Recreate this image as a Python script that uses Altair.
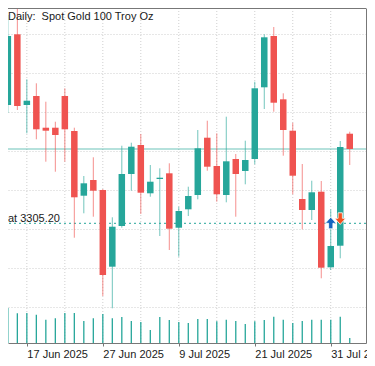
import altair as alt
import pandas as pd

# ---- data ----
dates = ["13 Jun 2025", "16 Jun 2025", "17 Jun 2025", "18 Jun 2025", "19 Jun 2025", "20 Jun 2025",
         "23 Jun 2025", "24 Jun 2025", "25 Jun 2025", "26 Jun 2025", "27 Jun 2025", "30 Jun 2025",
         "1 Jul 2025", "2 Jul 2025", "3 Jul 2025", "4 Jul 2025", "7 Jul 2025", "8 Jul 2025",
         "9 Jul 2025", "10 Jul 2025", "11 Jul 2025", "14 Jul 2025", "15 Jul 2025", "16 Jul 2025",
         "17 Jul 2025", "18 Jul 2025", "21 Jul 2025", "22 Jul 2025", "23 Jul 2025", "24 Jul 2025",
         "25 Jul 2025", "28 Jul 2025", "29 Jul 2025", "30 Jul 2025", "31 Jul 2025", "1 Aug 2025",
         "4 Aug 2025"]

opens = [3380.94, 3426.20, 3380.94, 3386.70, 3366.40, 3366.40, 3386.70, 3364.29, 3322.87, 3332.92,
         3326.52, 3277.42, 3303.47, 3336.76, 3355.33, 3324.41, 3333.56, 3337.21, 3302.38, 3314.16,
         3323.32, 3360.00, 3341.88, 3323.32, 3346.37, 3338.68, 3346.37, 3392.27, 3425.11, 3384.58,
         3364.48, 3320.76, 3313.71, 3325.43, 3277.03, 3290.86, 3362.56]
highs = [3438.55, 3446.88, 3397.39, 3394.83, 3383.05, 3370.24, 3391.63, 3366.40, 3335.48, 3347.45,
         3327.16, 3309.04, 3354.88, 3356.80, 3362.37, 3342.52, 3340.41, 3343.61, 3315.83, 3328.63,
         3364.93, 3370.88, 3362.82, 3373.45, 3349.57, 3358.08, 3395.85, 3426.20, 3430.87, 3388.43,
         3369.60, 3343.16, 3332.47, 3332.28, 3314.16, 3357.89, 3363.84]
lows = [3375.81, 3377.73, 3362.82, 3358.98, 3344.64, 3338.23, 3344.64, 3295.98, 3311.60, 3309.43,
        3258.66, 3250.78, 3302.38, 3326.07, 3311.15, 3322.23, 3297.07, 3288.11, 3283.82, 3309.87,
        3320.56, 3338.87, 3319.03, 3318.64, 3309.43, 3330.17, 3342.97, 3378.37, 3376.65, 3348.48,
        3323.77, 3301.36, 3307.31, 3269.99, 3275.30, 3282.79, 3342.52]
closes = [3425.11, 3380.30, 3383.69, 3365.38, 3364.48, 3361.73, 3365.38, 3321.85, 3330.81, 3326.07,
          3272.10, 3303.02, 3336.76, 3354.24, 3324.79, 3331.83, 3334.39, 3301.74, 3313.07, 3322.68,
          3353.22, 3341.44, 3323.77, 3344.89, 3336.76, 3345.72, 3391.63, 3424.28, 3382.41, 3364.93,
          3335.67, 3313.71, 3325.05, 3276.78, 3290.67, 3354.05, 3352.77]
volumes = [35000, 29700, 30000, 28300, 23300, 24700, 30000, 30000, 22000, 24700,
           29000, 24700, 26000, 22000, 21000, 13000, 26000, 23000, 21000, 20000,
           24000, 24000, 21700, 23300, 22000, 19000, 21700, 23000, 26300, 23300,
           20000, 22000, 23300, 23300, 23300, 26300, 5000]

tick_idx = [2, 10, 18, 26, 34]
tick_labels = ["17 Jun 2025", "27 Jun 2025", "9 Jul 2025", "21 Jul 2025", "31 Jul 2025"]
grid_idx = [2, 6, 10, 14, 18, 22, 26, 30, 34]
price_grid = [3251.6, 3276.6, 3301.6, 3326.6, 3351.6, 3376.6, 3401.6, 3426.6]

trade_price = 3305.20
buy_idx, buy_price = 34, 3305.20
sell_idx, sell_price = 35, 3308.40

title_text = "Daily:\u00a0 Spot Gold 100 Troy Oz"
trade_text = "at 3305.20"

UP = "#26a69a"
DOWN = "#ef5350"
FONT = "Liberation Sans"

df = pd.DataFrame({
    "idx": list(range(len(dates))),
    "date": dates,
    "open": opens, "high": highs, "low": lows, "close": closes,
    "vol": volumes,
})
df["dir"] = ["up" if c >= o else "down" for o, c in zip(opens, closes)]

W, H = 358, 335
xscale = alt.Scale(domain=[0.5425, 37.1853], nice=False, zero=False)
yscale = alt.Scale(domain=[3228.57, 3443.04], nice=False, zero=False)
vscale = alt.Scale(domain=[0, 335000], nice=False, zero=False)
cscale = alt.Scale(domain=["up", "down"], range=[UP, DOWN])

label_expr = "".join(f"datum.value == {i} ? '{t}' : " for i, t in zip(tick_idx, tick_labels)) + "''"

xaxis = alt.Axis(
    values=tick_idx, labelExpr=label_expr, grid=False, tickSize=3, tickColor="#777777",
    domainColor="#777777", labelAlign="left", labelBaseline="alphabetic", labelPadding=11,
    labelFont=FONT, labelFontSize=11, labelColor="#1a1a1a", labelOverlap=False,
    labelFlush=False, title=None)
yaxis = alt.Axis(
    orient="right", values=price_grid, grid=True, gridDash=[1, 2], gridColor="#cfcfcf",
    labels=False, ticks=True, tickSize=3, tickColor="#777777", domainColor="#777777",
    title=None)


def X(field):
    return alt.X(field, scale=xscale, axis=xaxis)


def Y(field):
    return alt.Y(field, scale=yscale, axis=yaxis)


base = alt.Chart(df)

grid_v = alt.Chart(pd.DataFrame({"idx": grid_idx})).mark_rule(
    color="#cfcfcf", strokeDash=[1, 2], strokeWidth=1
).encode(x=X("idx:Q"))

vol = base.mark_rule(color=UP, strokeWidth=1.3, clip=True).encode(
    x=X("idx:Q"),
    y=alt.Y("vol:Q", scale=vscale, axis=None),
    y2=alt.datum(0),
)

price_line = alt.Chart(pd.DataFrame({"p": [closes[-1]]})).mark_rule(
    color=UP, opacity=0.45, strokeWidth=1.5
).encode(y=Y("p:Q"))

trade_df = pd.DataFrame({"p": [trade_price], "t": [trade_text]})
trade_line = alt.Chart(trade_df).mark_rule(
    color=UP, strokeDash=[2, 3], strokeWidth=1
).encode(y=Y("p:Q"))

trade_label = alt.Chart(trade_df).mark_text(
    align="left", baseline="alphabetic", dy=-1.6, font=FONT, fontSize=11, color="#1a1a1a"
).encode(x=alt.value(0), y=Y("p:Q"), text="t:N")

wicks = base.mark_rule(strokeWidth=1, opacity=0.65, clip=True).encode(
    x=X("idx:Q"),
    y=Y("low:Q"),
    y2="high:Q",
    color=alt.Color("dir:N", scale=cscale, legend=None),
)

bodies = base.mark_bar(size=6.5, clip=True).encode(
    x=X("idx:Q"),
    y=Y("open:Q"),
    y2="close:Q",
    color=alt.Color("dir:N", scale=cscale, legend=None),
    tooltip=["date:N", "open:Q", "high:Q", "low:Q", "close:Q"],
)

up_arrow = "M0,-1L0.9,0L0.35,0L0.35,0.9L-0.35,0.9L-0.35,0L-0.9,0Z"
down_arrow = "M0,1L0.9,0L0.35,0L0.35,-0.9L-0.35,-0.9L-0.35,0L-0.9,0Z"
buy_arrow = alt.Chart(pd.DataFrame({"idx": [buy_idx], "p": [buy_price]})).mark_point(
    shape=up_arrow, filled=True, size=150, fill="#1565c0", stroke="white", strokeWidth=0.8, opacity=1
).encode(x=X("idx:Q"), y=Y("p:Q"))
sell_arrow = alt.Chart(pd.DataFrame({"idx": [sell_idx], "p": [sell_price]})).mark_point(
    shape=down_arrow, filled=True, size=150, fill="#f4511e", stroke="white", strokeWidth=0.8, opacity=1
).encode(x=X("idx:Q"), y=Y("p:Q"))

top_border = alt.Chart(pd.DataFrame({"a": [0]})).mark_rule(color="#777777", strokeWidth=1).encode(
    y=alt.value(0.5))

title = alt.Chart(pd.DataFrame({"t": [title_text]})).mark_text(
    align="left", baseline="top", font=FONT, fontSize=11, color="#1a1a1a"
).encode(x=alt.value(0), y=alt.value(2.5), text="t:N")

price_layers = alt.layer(price_line, trade_line, trade_label, wicks, bodies,
                         buy_arrow, sell_arrow)

chart = alt.layer(grid_v, vol, price_layers, top_border, title).resolve_scale(
    y="independent"
).properties(
    width=W, height=H,
    autosize=alt.AutoSizeParams(type="none"),
    padding={"left": 0, "top": 0, "right": 1, "bottom": 15},
    background="white",
).configure_view(stroke=None)

chart.save("out.html", embed_options={"renderer": "svg", "actions": False})
